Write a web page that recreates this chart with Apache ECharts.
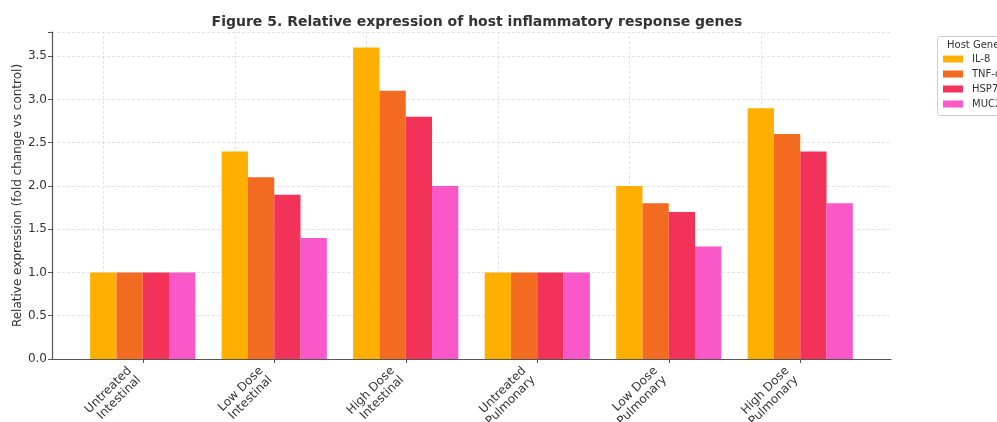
<!DOCTYPE html>
<html><head><meta charset="utf-8">
<script src="https://cdn.jsdelivr.net/npm/echarts@6/dist/echarts.min.js"></script>
<style>html,body{margin:0;padding:0;background:#fff}#c{width:997px;height:422px}</style>
</head><body><div id="c"></div>
<script>
const categories = ['Untreated\nIntestinal','Low Dose\nIntestinal','High Dose\nIntestinal','Untreated\nPulmonary','Low Dose\nPulmonary','High Dose\nPulmonary'];
const geneNames = ['IL-8','TNF-α','HSP70','MUC2'];
const il8 = [1.0, 2.4, 3.6, 1.0, 2.0, 2.9];
const tnf = [1.0, 2.1, 3.1, 1.0, 1.8, 2.6];
const hsp70 = [1.0, 1.9, 2.8, 1.0, 1.7, 2.4];
const muc2 = [1.0, 1.4, 2.0, 1.0, 1.3, 1.8];
const yTicks = [0, 0.5, 1.0, 1.5, 2.0, 2.5, 3.0, 3.5];
const colors = ['#FFAF00','#F26B21','#F3325A','#FA57C8'];
const seriesValues = [il8, tnf, hsp70, muc2];

const chart = echarts.init(document.getElementById('c'), null, {renderer:'canvas'});
const FONT = 'DejaVu Sans';
const gridLine = {show:true, lineStyle:{color:'#dddddd', type:[3,2], width:0.8}};
const series = seriesValues.map((vals, i) => ({
  name: geneNames[i], type:'bar', xAxisIndex:0, yAxisIndex:0,
  data: vals, barWidth: 26.3, barGap: '0%',
  itemStyle:{color: colors[i]},
  emphasis:{disabled:true},
  z: 3
}));
series[0].markLine = {
  silent:true, symbol:'none', label:{show:false},
  lineStyle:{color:'#dddddd', type:[3,2], width:0.8},
  data: categories.map(c => ({xAxis: c})),
  z: 1, animation:false
};
const option = {
  animation:false,
  textStyle:{fontFamily:FONT},
  title:{text:'Figure 5. Relative expression of host inflammatory response genes', left:472, textAlign:'center', top:10,
    textStyle:{fontFamily:FONT, fontSize:14, fontWeight:'bold', color:'#333'}},
  grid:[
    {left:77, right:131, top:32, bottom:63, containLabel:false, outerBoundsMode:'none'},
    {left:52, right:106, top:32, bottom:63, containLabel:false, outerBoundsMode:'none'}
  ],
  xAxis:[
    {type:'category', gridIndex:0, data:categories,
      axisLine:{show:false},
      axisTick:{show:true, alignWithLabel:true, length:4, lineStyle:{color:'#555'}},
      axisLabel:{rotate:45, interval:0, fontFamily:FONT, fontSize:12, color:'#333', lineHeight:13, margin:6, align:'right',
        padding:[0,12,0,0]},
      splitLine:{show:false}},
    {type:'value', gridIndex:1, min:0, max:1, show:true,
      axisLine:{show:true, onZero:false, lineStyle:{color:'#555', width:1.2}},
      axisTick:{show:false}, axisLabel:{show:false}, splitLine:{show:false}}
  ],
  yAxis:[
    {type:'value', gridIndex:0, min:0, max:3.78, show:false, splitLine:{show:false}},
    {type:'value', gridIndex:1, min:0, max:3.78, interval:0.5,
      name:'Relative expression (fold change vs control)', nameLocation:'middle', nameGap:28, nameMoveOverlap:false,
      nameTextStyle:{fontFamily:FONT, fontSize:12, color:'#333'},
      axisLine:{show:true, lineStyle:{color:'#555', width:1.2}},
      axisTick:{show:true, length:4, lineStyle:{color:'#555'}},
      axisLabel:{fontFamily:FONT, fontSize:12, color:'#333', margin:5,
        formatter: v => yTicks.indexOf(v) >= 0 ? v.toFixed(1) : ''},
      splitLine: gridLine}
  ],
  legend:{
    data: geneNames, orient:'vertical', left:938, top:49, itemWidth:20, itemHeight:7, itemGap:5,
    icon:'rect', textStyle:{fontFamily:FONT, fontSize:10, color:'#333', padding:[0,0,0,4]}, selectedMode:false
  },
  graphic:[
    {type:'rect', left:937, top:36, shape:{width:80, height:79, r:2}, style:{fill:'#fff', stroke:'#cccccc', lineWidth:1}, z:-1},
    {type:'text', left:947, top:40, style:{text:'Host Gene', fontFamily:FONT, fontSize:10, fill:'#333'}}
  ],
  series: series
};
chart.setOption(option);
</script>
</body></html>
